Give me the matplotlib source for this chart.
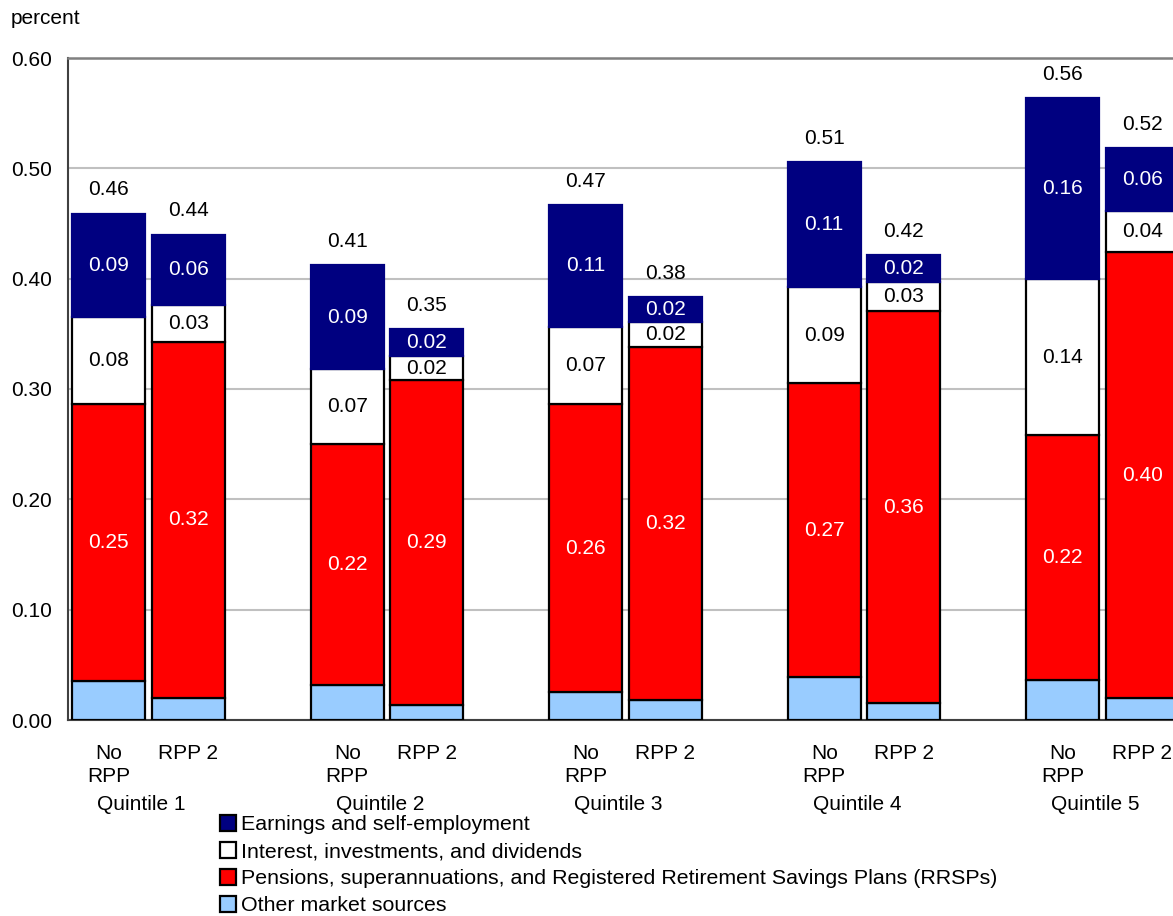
import matplotlib.pyplot as plt
from matplotlib.patches import Patch
from matplotlib.transforms import blended_transform_factory
import numpy as np

plt.rcParams["font.family"] = ["Liberation Sans", "DejaVu Sans"]

quintiles = ["Quintile 1", "Quintile 2", "Quintile 3", "Quintile 4", "Quintile 5"]
bar_labels = ["No\nRPP", "RPP 2"]

# stack order, bottom to top
sources = [
    "Other market sources",
    "Pensions, superannuations, and Registered Retirement Savings Plans (RRSPs)",
    "Interest, investments, and dividends",
    "Earnings and self-employment",
]

# values per quintile: [No RPP, RPP 2]
other_market = [[0.035, 0.020], [0.032, 0.014], [0.025, 0.018], [0.039, 0.015], [0.036, 0.020]]
pensions = [[0.251, 0.323], [0.218, 0.294], [0.261, 0.320], [0.266, 0.356], [0.222, 0.404]]
interest = [[0.079, 0.033], [0.068, 0.022], [0.070, 0.023], [0.087, 0.026], [0.142, 0.037]]
earnings = [[0.094, 0.064], [0.094, 0.024], [0.111, 0.022], [0.114, 0.024], [0.164, 0.057]]

colors = ["#99ccff", "#ff0000", "#ffffff", "#000080"]
edges = ["black", "black", "black", "#000080"]
text_colors = [None, "white", "black", "white"]

FS = 15


def main():
    fig = plt.figure(figsize=(11.73, 9.16), dpi=100)
    ax = fig.add_axes([68 / 1173, 196 / 916, 1105 / 1173, 662 / 916])

    width = 0.306
    offset = 0.1667
    groups = np.arange(len(quintiles))
    layers = [np.array(other_market), np.array(pensions), np.array(interest), np.array(earnings)]

    for j, sign in enumerate([-1, 1]):
        xs = groups + sign * offset
        bottom = np.zeros(len(quintiles))
        for k, layer in enumerate(layers):
            vals = layer[:, j]
            ax.bar(xs, vals, width, bottom=bottom, color=colors[k],
                   edgecolor=edges[k], linewidth=1.6, zorder=3)
            if text_colors[k]:
                for x, b, v in zip(xs, bottom, vals):
                    ax.text(x, b + v / 2, f"{v:.2f}", ha="center", va="center",
                            color=text_colors[k], fontsize=FS, zorder=4)
            bottom = bottom + vals
        # totals above each bar
        for x, tot in zip(xs, bottom):
            ax.annotate(f"{tot:.2f}", xy=(x, tot), xytext=(0, 17),
                        textcoords="offset points", ha="center", va="center",
                        fontsize=FS, zorder=4)

    ax.set_xlim(-0.3375, 4.2956)
    ax.set_ylim(0, 0.6)
    ax.set_yticks(np.arange(0, 0.61, 0.1))
    ax.set_yticklabels([f"{v:.2f}" for v in np.arange(0, 0.61, 0.1)], fontsize=FS)
    ax.yaxis.grid(True, color="#c0c0c0", linewidth=1.5, zorder=0)
    ax.set_axisbelow(True)
    ax.tick_params(axis="y", length=0, pad=11.5)

    xticks = np.concatenate([groups - offset, groups + offset])
    ax.set_xticks(xticks)
    ax.set_xticklabels([bar_labels[0]] * 5 + [bar_labels[1]] * 5, fontsize=FS,
                       linespacing=1.3, va="top")
    ax.tick_params(axis="x", length=0, pad=17)

    trans = blended_transform_factory(ax.transData, fig.transFigure)
    for g, name in zip(groups, quintiles):
        ax.text(g - 0.03, 1 - 804 / 916, name, transform=trans, ha="center",
                va="center", fontsize=FS)

    ax.spines["right"].set_visible(False)
    ax.spines["top"].set_color("#808080")
    ax.spines["top"].set_linewidth(1.8)
    ax.spines["left"].set_color("#404040")
    ax.spines["left"].set_linewidth(1.5)
    ax.spines["bottom"].set_color("#404040")
    ax.spines["bottom"].set_linewidth(1.5)

    fig.text(11 / 1173, 1 - 18 / 916, "percent", ha="left", va="center", fontsize=FS)

    handles = [Patch(facecolor=colors[k], edgecolor="black", linewidth=1.6, label=sources[k])
               for k in reversed(range(len(sources)))]
    fig.legend(handles=handles, loc="upper left", bbox_to_anchor=(220 / 1173, 1 - 815 / 916),
               frameon=False, fontsize=15.4, handlelength=0.75, handleheight=0.75,
               handletextpad=0.25, labelspacing=0.36, borderpad=0, borderaxespad=0)

    fig.savefig("out.png", dpi=100)


if __name__ == "__main__":
    main()
